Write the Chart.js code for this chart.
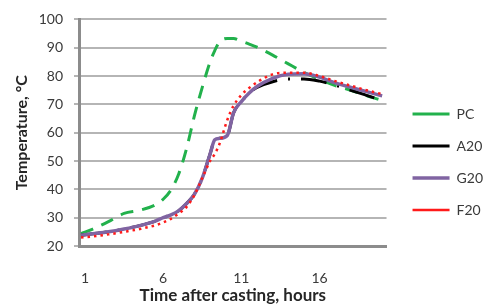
<!DOCTYPE html>
<html>
<head>
<meta charset="utf-8">
<script src="https://cdn.jsdelivr.net/npm/chart.js@4/dist/chart.umd.min.js"></script>
<style>
  html, body { margin: 0; padding: 0; background: #fff; }
  #wrap { width: 489px; height: 308px; position: relative; }
</style>
</head>
<body>
<div id="wrap"><canvas id="c" width="489" height="308"></canvas></div>
<script>
// Time after casting, hours
const hours = [0.75, 1.5, 2.5, 3.5, 4.5, 5.5, 6, 6.5, 7, 7.5, 8, 8.5, 9, 9.3, 9.6, 10.1, 10.5, 11, 11.5, 12, 13, 14, 15, 16, 17, 18, 19, 20];
// Temperature, °C
const pcValues  = [24.4, 26.0, 28.6, 31.5, 32.6, 34.5, 36.5, 39.8, 45.5, 54.5, 66.0, 76.0, 85.0, 89.0, 92.0, 93.3, 93.3, 92.3, 91.3, 90.2, 87.4, 84.3, 81.3, 78.8, 76.6, 75.0, 73.1, 71.4];
const a20Values = [23.8, 24.3, 25.0, 26.0, 27.2, 28.8, 30.0, 31.0, 32.5, 35.0, 38.3, 44.0, 52.5, 57.5, 58.0, 59.0, 67.0, 71.0, 74.0, 76.0, 78.0, 79.0, 79.0, 78.2, 76.8, 75.0, 73.2, 71.4];
const g20Values = [23.8, 24.3, 25.0, 26.0, 27.2, 28.8, 30.0, 31.0, 32.5, 35.0, 38.3, 44.0, 52.5, 57.5, 58.0, 59.0, 67.0, 71.0, 74.0, 76.3, 79.2, 80.6, 80.8, 79.6, 77.6, 76.0, 74.5, 73.0];
const f20Values = [23.0, 23.4, 24.1, 25.0, 26.0, 27.3, 28.3, 29.6, 31.5, 33.8, 38.0, 44.0, 50.0, 52.5, 56.0, 64.5, 69.5, 73.3, 75.8, 77.8, 80.6, 81.2, 81.2, 80.0, 78.2, 76.6, 75.0, 73.6];
const seriesNames = ['PC', 'A20', 'G20', 'F20'];
const xTickValues = [1, 6, 11, 16];
const xTickLabels = ['1', '6', '11', '16'];
const yTickMin = 20, yTickMax = 100, yTickStep = 10;

const toXY = vals => vals.map((v, i) => ({x: hours[i], y: v}));
const txt = '#3a3a3a';
const fontFam = 'Lato, "Open Sans", "Liberation Sans", sans-serif';

new Chart(document.getElementById('c'), {
  type: 'line',
  data: {
    datasets: [
      { label: seriesNames[0], data: toXY(pcValues), borderColor: '#22b14c', backgroundColor: '#22b14c',
        borderWidth: 3, borderDash: [13, 9], order: 4 },
      { label: seriesNames[1], data: toXY(a20Values), borderColor: '#000000', backgroundColor: '#000000',
        borderWidth: 3, borderDash: [26, 11, 2, 11], order: 3 },
      { label: seriesNames[2], data: toXY(g20Values), borderColor: '#8064a2', backgroundColor: '#8064a2',
        borderWidth: 3.5, order: 2 },
      { label: seriesNames[3], data: toXY(f20Values), borderColor: '#ff1a1a', backgroundColor: '#ff1a1a',
        borderWidth: 2.5, borderDash: [2.5, 4], order: 1 }
    ]
  },
  options: {
    responsive: false,
    animation: false,
    devicePixelRatio: 1,
    layout: { padding: { top: 16, right: -4, bottom: 0, left: 0 } },
    elements: { point: { radius: 0 }, line: { cubicInterpolationMode: 'monotone', fill: false } },
    plugins: {
      tooltip: { enabled: false },
      legend: {
        position: 'right',
        align: 'center',
        maxWidth: 160,
        labels: {
          usePointStyle: true,
          pointStyle: 'line',
          pointStyleWidth: 37,
          padding: 18,
          color: txt,
          font: { family: fontFam, size: 14 },
          sort: (a, b) => a.datasetIndex - b.datasetIndex
        }
      }
    },
    scales: {
      x: {
        type: 'linear',
        min: 0.62,
        max: 20.28,
        afterBuildTicks: s => { s.ticks = xTickValues.map(v => ({ value: v })); },
        afterFit: s => { s.height = 62; },
        grid: { display: false },
        border: { display: true, color: '#8c8c8c', width: 3 },
        ticks: {
          autoSkip: false, maxRotation: 0, padding: 16, color: txt,
          font: { family: fontFam, size: 14 },
          callback: (v) => { const i = xTickValues.indexOf(v); return i >= 0 ? xTickLabels[i] : ''; }
        },
        title: {
          display: true, text: 'Time after casting, hours', color: '#262626',
          font: { family: fontFam, size: 17, weight: 'bold' },
          padding: { top: 0, bottom: 2 }
        }
      },
      y: {
        type: 'linear',
        min: yTickMin,
        max: yTickMax,
        afterFit: s => { s.width = 79; },
        grid: { color: '#b5b5b5', lineWidth: 2, drawTicks: true, tickLength: 5, tickColor: '#b5b5b5' },
        border: { display: true, color: '#8c8c8c', width: 3 },
        ticks: { stepSize: yTickStep, padding: 11, color: txt, font: { family: fontFam, size: 14 } },
        title: {
          display: true, text: 'Temperature, °C', color: '#262626',
          font: { family: fontFam, size: 16, weight: 'bold' },
          padding: { top: 12, bottom: 0 }
        }
      },
      y2: {
        type: 'linear',
        position: 'right',
        display: true,
        grid: { display: false },
        border: { display: false },
        ticks: { display: false },
        afterFit: s => { s.width = 8; }
      }
    }
  }
});
</script>
</body>
</html>
